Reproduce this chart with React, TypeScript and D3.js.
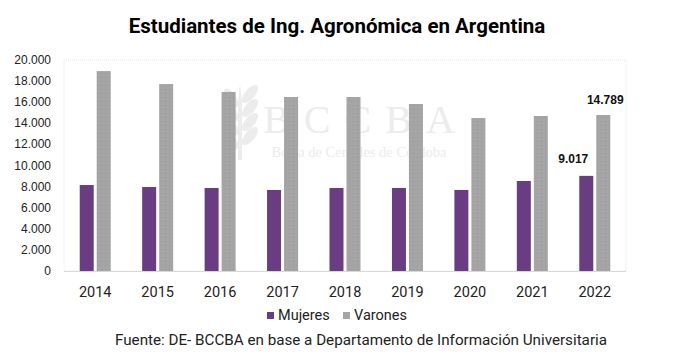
import { useRef, useEffect } from 'react';
import * as d3 from 'd3';

const YEARS = ['2014', '2015', '2016', '2017', '2018', '2019', '2020', '2021', '2022'];
const MUJERES = [8150, 7960, 7870, 7680, 7870, 7870, 7680, 8530, 9017];
const VARONES = [18950, 17720, 16970, 16490, 16490, 15830, 14500, 14690, 14789];
const SERIES = ['Mujeres', 'Varones'];
const COLORS = ['#6a3d82', '#a5a5a5'];
const Y_TICKS = [0, 2000, 4000, 6000, 8000, 10000, 12000, 14000, 16000, 18000, 20000];

const W = 696;
const H = 362;
const TXT = 'Roboto, "Noto Sans", sans-serif';

const fmt = (v: number) => d3.format(',')(v).replace(/,/g, '.');

export default function App() {
  const svgRef = useRef<SVGSVGElement>(null);

  useEffect(() => {
    const svg = d3.select(svgRef.current);
    svg.selectAll('*').remove();

    const plot = { left: 64, right: 626, top: 60, bottom: 271 };

    const x = d3.scaleBand().domain(YEARS).range([plot.left, plot.right]);
    const y = d3.scaleLinear().domain([0, 20000]).range([plot.bottom, plot.top]);
    const barW = 14;
    const gap = 3;

    // Defs — dotted texture for the gray bars
    const defs = svg.append('defs');
    const pat = defs.append('pattern')
      .attr('id', 'dots')
      .attr('width', 4).attr('height', 4)
      .attr('patternUnits', 'userSpaceOnUse');
    pat.append('rect').attr('width', 4).attr('height', 4).attr('fill', COLORS[1]);
    pat.append('rect').attr('x', 1).attr('y', 1).attr('width', 1).attr('height', 1).attr('fill', '#989898');

    svg.append('rect').attr('width', W).attr('height', H).attr('fill', '#fff');

    // Title
    svg.append('text')
      .attr('x', 337).attr('y', 33)
      .attr('text-anchor', 'middle')
      .attr('font-family', TXT)
      .attr('font-weight', 700)
      .attr('font-size', 20.5)
      .attr('fill', '#000')
      .text('Estudiantes de Ing. Agronómica en Argentina');

    // Plot frame (dotted)
    svg.append('rect')
      .attr('x', plot.left).attr('y', plot.top)
      .attr('width', plot.right - plot.left).attr('height', plot.bottom - plot.top)
      .attr('fill', 'none')
      .attr('stroke', '#e0e0e0')
      .attr('stroke-width', 0.8)
      .attr('stroke-dasharray', '1,1');

    // Watermark
    const wm = svg.append('g').attr('fill', '#ececec');
    wm.append('text')
      .attr('x', 366).attr('y', 133)
      .attr('text-anchor', 'middle')
      .attr('font-family', '"Liberation Serif", "DejaVu Serif", serif')
      .attr('font-size', 40)
      .attr('letter-spacing', 14)
      .text('BCCBA');
    wm.append('text')
      .attr('x', 359).attr('y', 157)
      .attr('text-anchor', 'middle')
      .attr('font-family', '"Liberation Serif", "DejaVu Serif", serif')
      .attr('font-size', 14.5)
      .text('Bolsa de Cereales de Córdoba');
    // wheat icon
    const wheat = wm.append('g').attr('transform', 'translate(240,122)');
    wheat.append('path').attr('d', 'M0,-38 L2,-20 L2,38 L-2,38 L-2,-20 Z');
    [-24, -10, 4, 18].forEach(dy => {
      wheat.append('ellipse').attr('cx', -9).attr('cy', dy).attr('rx', 5).attr('ry', 11)
        .attr('transform', `rotate(-35,-9,${dy})`);
      wheat.append('ellipse').attr('cx', 10).attr('cy', dy - 4).attr('rx', 5).attr('ry', 11)
        .attr('transform', `rotate(40,10,${dy - 4})`);
    });

    // Baseline
    svg.append('line')
      .attr('x1', plot.left).attr('x2', plot.right)
      .attr('y1', plot.bottom + 0.5).attr('y2', plot.bottom + 0.5)
      .attr('stroke', '#d9d9d9').attr('stroke-width', 1);

    // Y tick labels
    svg.append('g')
      .selectAll('text')
      .data(Y_TICKS)
      .join('text')
      .attr('x', 51)
      .attr('y', d => y(d) + 4)
      .attr('text-anchor', 'end')
      .attr('font-family', '"Liberation Sans", Arial, sans-serif')
      .attr('font-size', 12)
      .attr('fill', '#222')
      .text(d => fmt(d));

    // Bars
    const groups = [MUJERES, VARONES];
    groups.forEach((vals, si) => {
      svg.append('g')
        .selectAll('rect')
        .data(vals)
        .join('rect')
        .attr('x', (_, i) => {
          const c = (x(YEARS[i]) as number) + x.bandwidth() / 2;
          return si === 0 ? c - gap / 2 - barW : c + gap / 2;
        })
        .attr('y', d => y(d))
        .attr('width', barW)
        .attr('height', d => plot.bottom - y(d))
        .attr('fill', si === 0 ? COLORS[0] : 'url(#dots)');
    });

    // Value labels on last year
    const last = YEARS.length - 1;
    const cLast = (x(YEARS[last]) as number) + x.bandwidth() / 2;
    svg.append('text')
      .attr('x', cLast - gap / 2 - barW / 2 - 13)
      .attr('y', y(MUJERES[last]) - 13)
      .attr('text-anchor', 'middle')
      .attr('font-family', '"Liberation Sans", Arial, sans-serif')
      .attr('font-weight', 700)
      .attr('font-size', 12)
      .attr('fill', '#111')
      .text(fmt(MUJERES[last]));
    svg.append('text')
      .attr('x', cLast + gap / 2 + barW / 2 + 2)
      .attr('y', y(VARONES[last]) - 11)
      .attr('text-anchor', 'middle')
      .attr('font-family', '"Liberation Sans", Arial, sans-serif')
      .attr('font-weight', 700)
      .attr('font-size', 12)
      .attr('fill', '#111')
      .text(fmt(VARONES[last]));

    // X labels
    svg.append('g')
      .selectAll('text')
      .data(YEARS)
      .join('text')
      .attr('x', d => (x(d) as number) + x.bandwidth() / 2)
      .attr('y', 297)
      .attr('text-anchor', 'middle')
      .attr('font-family', TXT)
      .attr('font-size', 14.5)
      .attr('fill', '#222')
      .text(d => d);

    // Legend
    const legX = [267, 343];
    SERIES.forEach((s, i) => {
      svg.append('rect')
        .attr('x', legX[i]).attr('y', 312)
        .attr('width', 7).attr('height', 7)
        .attr('fill', COLORS[i]);
      svg.append('text')
        .attr('x', legX[i] + 11).attr('y', 320)
        .attr('font-family', TXT)
        .attr('font-size', 14.5)
        .attr('fill', '#222')
        .text(s);
    });

    // Source
    svg.append('text')
      .attr('x', 361).attr('y', 345)
      .attr('text-anchor', 'middle')
      .attr('font-family', TXT)
      .attr('font-size', 15.2)
      .attr('fill', '#222')
      .text('Fuente: DE- BCCBA en base a Departamento de Información Universitaria');
  }, []);

  return (
    <svg
      ref={svgRef}
      width={W}
      height={H}
      style={{ display: 'block', position: 'absolute', left: 0, top: 0 }}
    />
  );
}
